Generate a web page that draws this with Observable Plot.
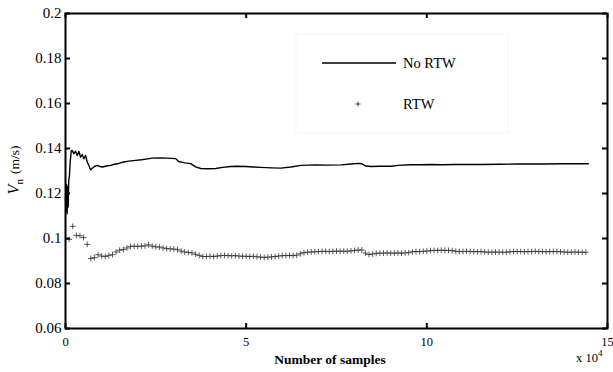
<!DOCTYPE html>
<html><head><meta charset="utf-8">
<script src="https://cdn.jsdelivr.net/npm/d3@7"></script>
<script src="https://cdn.jsdelivr.net/npm/@observablehq/plot@0.6"></script>
<style>body{margin:0;background:#fff;overflow:hidden}</style>
</head><body><div id="chart"></div>
<script>
// No RTW curve: sample count, Vn (m/s)
const noRtwSamples = [0,150,300,450,600,750,900,1100,1300,1600,1860,2300,2770,3240,3690,4160,4630,5070,5550,6020,6460,6930,7400,8000,8800,9500,10260,11300,12480,13500,14420,15200,16080,17500,19400,21000,22730,24000,26300,28000,30500,31300,33000,34650,36000,37430,39500,41600,43500,45750,47500,49900,52000,54060,57000,59600,62380,65150,67000,69300,72500,76240,79000,80950,82000,83170,84560,87000,90100,92000,95650,98000,101200,104000,108000,115000,120000,125000,131700,138000,144700];
const noRtwValues = [0.118,0.112,0.124,0.111,0.123,0.114,0.126,0.128,0.134,0.139,0.1391,0.1377,0.1388,0.1369,0.1387,0.1362,0.1373,0.1354,0.1369,0.1340,0.1325,0.1305,0.1312,0.1320,0.1325,0.1320,0.1318,0.1322,0.1325,0.1330,0.1332,0.1336,0.1340,0.1344,0.1347,0.1350,0.1354,0.1357,0.1358,0.1357,0.1355,0.1342,0.1336,0.1333,0.1318,0.1311,0.1310,0.1311,0.1316,0.1320,0.1321,0.1320,0.1318,0.1316,0.1314,0.1313,0.1318,0.1325,0.1326,0.1327,0.1326,0.1327,0.1331,0.1334,0.1332,0.1322,0.1320,0.1321,0.1321,0.1325,0.1328,0.1328,0.1329,0.1328,0.1329,0.1329,0.1330,0.1331,0.1331,0.1332,0.1332];

// RTW markers: one every 1000 samples starting at 1000
const rtwFirstSample = 1000;
const rtwSampleStep = 1000;
const rtwValues = [0.0996,0.1054,0.1014,0.1012,0.1004,0.0974,0.0911,0.0915,0.0928,0.0922,
0.0920,0.0925,0.0928,0.0940,0.0948,0.0951,0.0958,0.0965,0.0966,0.0965,
0.0966,0.0967,0.0972,0.0966,0.0963,0.0962,0.0958,0.0955,0.0954,0.0953,
0.0950,0.0944,0.0940,0.0938,0.0936,0.0930,0.0925,0.0920,0.0920,0.0921,
0.0920,0.0922,0.0924,0.0925,0.0924,0.0923,0.0924,0.0922,0.0921,0.0921,
0.0920,0.0921,0.0919,0.0917,0.0916,0.0917,0.0918,0.0920,0.0922,0.0924,
0.0924,0.0925,0.0924,0.0926,0.0932,0.0937,0.0939,0.0940,0.0941,0.0942,
0.0943,0.0943,0.0942,0.0943,0.0944,0.0943,0.0944,0.0943,0.0945,0.0947,
0.0949,0.0949,0.0935,0.0929,0.0931,0.0934,0.0935,0.0935,0.0936,0.0935,
0.0935,0.0936,0.0935,0.0936,0.0937,0.0941,0.0942,0.0942,0.0943,0.0944,
0.0946,0.0947,0.0947,0.0948,0.0947,0.0947,0.0946,0.0943,0.0942,0.0942,
0.0943,0.0942,0.0942,0.0941,0.0942,0.0940,0.0939,0.0939,0.0940,0.0939,
0.0939,0.0939,0.0941,0.0942,0.0942,0.0942,0.0941,0.0942,0.0942,0.0943,
0.0942,0.0942,0.0941,0.0942,0.0942,0.0942,0.0941,0.0940,0.0939,0.0939,
0.0940,0.0939,0.0939,0.0939];

const yTicks = [0.06,0.08,0.1,0.12,0.14,0.16,0.18,0.2];
const yTickLabels = ["0.06","0.08","0.1","0.12","0.14","0.16","0.18","0.2"];
const xTicks = [0,50000,100000,150000];
const xTickLabels = ["0","5","10","15"];
const seriesNames = ["No RTW","RTW"];

const noRtw = noRtwSamples.map((s,i) => ({s, v: noRtwValues[i]}));
const rtw = rtwValues.map((v,i) => ({s: rtwFirstSample + i*rtwSampleStep, v}));

const FONT = "'Liberation Serif', serif";
const W = 613, H = 372, ML = 65, MR = 6, MT = 13, MB = 44;
const FW = W - ML - MR, FH = H - MT - MB, TL = 5;

const chart = Plot.plot({
  width: W, height: H,
  marginLeft: ML, marginRight: MR, marginTop: MT, marginBottom: MB,
  style: {fontFamily: FONT, fontSize: "15px", background: "white", color: "black", overflow: "visible"},
  x: {domain: [0, 150000], axis: null},
  y: {domain: [0.06, 0.2], axis: null},
  marks: [
    Plot.line(noRtw, {x: "s", y: "v", stroke: "black", strokeWidth: 1.4}),
    Plot.dot(rtw, {x: "s", y: "v", symbol: "plus", r: 2, stroke: "#222", strokeWidth: 0.75}),
    Plot.axisY(yTicks, {anchor: "left", label: null, tickSize: 0, tickPadding: 4, tickFormat: d => yTickLabels[yTicks.indexOf(d)], fontSize: 15}),
    Plot.axisX(xTicks, {anchor: "bottom", label: null, tickSize: 0, tickPadding: 9, tickFormat: d => xTickLabels[xTicks.indexOf(d)], fontSize: 12.5}),
    Plot.tickY(yTicks, {y: d => d, insetRight: FW - TL, stroke: "black", strokeWidth: 2}),
    Plot.tickY(yTicks, {y: d => d, insetLeft: FW - TL, stroke: "black", strokeWidth: 2}),
    Plot.tickX(xTicks, {x: d => d, insetTop: FH - TL, stroke: "black", strokeWidth: 2}),
    Plot.tickX(xTicks, {x: d => d, insetBottom: FH - TL, stroke: "black", strokeWidth: 2}),
    Plot.frame({stroke: "black", strokeWidth: 2})
  ]
});
document.getElementById("chart").append(chart);

const svg = d3.select(chart);
// legend box
const lg = svg.append("g").attr("font-family", FONT).attr("font-size", 14.5).attr("text-anchor", "start");
lg.append("rect").attr("x", 296).attr("y", 34).attr("width", 212).attr("height", 99)
  .attr("fill", "white").attr("stroke", "#f5f5f5").attr("stroke-width", 1);
lg.append("line").attr("x1", 322).attr("x2", 396).attr("y1", 63).attr("y2", 63)
  .attr("stroke", "black").attr("stroke-width", 1.5);
lg.append("text").attr("x", 403).attr("y", 63).attr("dy", "0.35em").text(seriesNames[0]);
lg.append("path").attr("d", "M355.5,104H360.5M358,101.5V106.5").attr("stroke", "#111").attr("stroke-width", 0.8);
lg.append("text").attr("x", 403).attr("y", 104).attr("dy", "0.35em").text(seriesNames[1]);

// x label
svg.append("text").attr("x", 330).attr("y", 364).attr("text-anchor", "middle")
  .attr("font-family", FONT).attr("font-weight", "bold").attr("font-size", 13.5)
  .text("Number of samples");
// multiplier
const mult = svg.append("text").attr("x", 576).attr("y", 362).attr("text-anchor", "start")
  .attr("font-family", FONT).attr("font-size", 12.5);
mult.append("tspan").text("x 10");
mult.append("tspan").attr("dy", -6).attr("font-size", 9).text("4");

// y label
const yl = svg.append("text").attr("transform", "translate(19,170) rotate(-90)")
  .attr("text-anchor", "middle").attr("font-family", FONT);
yl.append("tspan").attr("font-style", "italic").attr("font-size", 16).text("V");
yl.append("tspan").attr("font-size", 11).attr("dy", 4).text("n");
yl.append("tspan").attr("font-size", 13.5).attr("dy", -4).attr("dx", 5).text("(m/s)");
</script>
</body></html>
